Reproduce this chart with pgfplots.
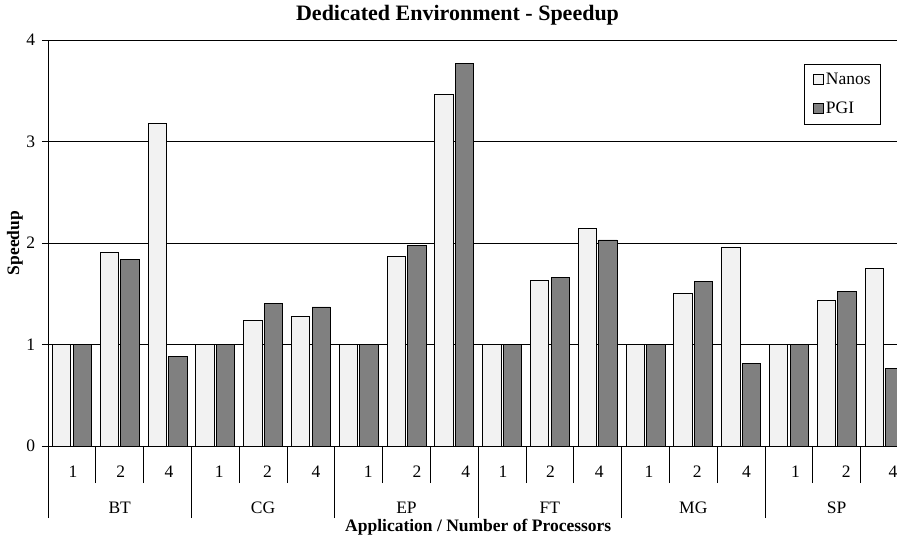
\documentclass[border=0pt]{standalone}
\usepackage{fontspec}
\setmainfont{Liberation Serif}
\usepackage{pgfplots}
\usepackage{pgfplotstable}
\pgfplotsset{compat=1.18}

\definecolor{nanosfill}{HTML}{F2F2F2}
\definecolor{pgifill}{HTML}{808080}

% x = position of the bar pair (BT 1,2,4 | CG 1,2,4 | ... | SP 1,2,4)
\pgfplotstableread{
x  nanos pgi
0  1.00  1.00
1  1.91  1.84
2  3.18  0.88
3  1.00  1.00
4  1.24  1.40
5  1.28  1.37
6  1.00  1.00
7  1.87  1.98
8  3.46  3.77
9  1.00  1.00
10 1.63  1.66
11 2.14  2.03
12 1.00  1.00
13 1.50  1.62
14 1.96  0.81
15 1.00  1.00
16 1.43  1.52
17 1.75  0.76
}\speedup

\newcommand{\chartfont}{\fontsize{17.5bp}{21bp}\selectfont}
% tick label pushed right by #1 bp (the labels do not sit quite centred)
\newcommand{\lb}[2]{\hspace*{#1bp}\hspace*{#1bp}#2}

\begin{document}
\begin{tikzpicture}[x=1bp,y=1bp]
% axis box: 48..908 px across, 40..446 px down in the 897x538 picture
\useasboundingbox (-48,-92) rectangle (849,446);
\clip (-48,-92) rectangle (849,446);
\begin{axis}[
    scale only axis,
    width=860.4bp, height=406bp,
    clip=false,
    ybar=2.3bp,
    bar width=18.3bp,
    xmin=-0.5, xmax=17.5,
    ymin=0, ymax=4,
    axis x line*=bottom,
    axis y line*=left,
    axis line style={-, black, line width=0.8bp},
    tick align=outside,
    ytick={0,1,2,3,4},
    ytick style={/pgfplots/major tick length=6bp, black, line width=0.8bp},
    yticklabel style={font=\chartfont, xshift=-5bp},
    /pgf/number format/assume math mode=true,
    ymajorgrids,
    grid style={black, line width=0.6bp},
    % separators between the bar pairs; labels moved to the middle of each pair
    xtick={-0.5,0.5,...,17.5},
    xticklabels={\lb{1}{1},\lb{1}{2},\lb{1.5}{4},
                 \lb{4}{1},\lb{4.5}{2},\lb{5}{4},
                 \lb{9.5}{1},\lb{10.5}{2},\lb{11.5}{4},
                 \lb{1}{1},\lb{0.5}{2},\lb{1.5}{4},
                 \lb{3.5}{1},\lb{4}{2},\lb{5.5}{4},
                 \lb{6.5}{1},\lb{9.5}{2},\lb{8.5}{4},{}},
    xticklabel style={font=\chartfont, anchor=base, xshift=23.9bp, yshift=-27bp},
    xtick style={/pgfplots/major tick length=37bp, black, line width=0.8bp},
    % separators between the applications
    minor xtick={-0.5,2.5,5.5,8.5,11.5,14.5,17.5},
    minor tick length=72bp,
    minor x tick style={black, line width=0.8bp},
    title={Dedicated Environment - Speedup},
    title style={at={(axis description cs:0.476,1.0345)}, anchor=base,
        font=\bfseries\fontsize{22bp}{26bp}\selectfont},
    xlabel={Application / Number of Processors},
    xlabel style={at={(axis description cs:0.5,0)}, anchor=base,
        yshift=-86bp, font=\bfseries\chartfont},
    ylabel={Speedup},
    ylabel style={at={(axis description cs:-0.0384,0.5)}, anchor=center,
        font=\bfseries\chartfont},
    legend style={at={(axis description cs:0.968,0.941)}, anchor=north east,
        draw=black, fill=white, font=\chartfont, row sep=12bp,
        inner xsep=8bp, inner ysep=7bp},
    legend cell align=left,
    legend image code/.code={\draw[#1] (0bp,-5bp) rectangle (10.5bp,5.5bp);},
]
\addplot[fill=nanosfill, draw=black, line width=0.8bp] table[x=x, y=nanos] {\speedup};
\addplot[fill=pgifill, draw=black, line width=0.8bp] table[x=x, y=pgi] {\speedup};
\legend{Nanos, PGI}
\node[font=\chartfont, anchor=base] at (axis cs:1,0)  [yshift=-68bp] {BT};
\node[font=\chartfont, anchor=base] at (axis cs:4,0)  [yshift=-68bp] {CG};
\node[font=\chartfont, anchor=base] at (axis cs:7,0)  [yshift=-68bp] {EP};
\node[font=\chartfont, anchor=base] at (axis cs:10,0) [yshift=-68bp] {FT};
\node[font=\chartfont, anchor=base] at (axis cs:13,0) [yshift=-68bp] {MG};
\node[font=\chartfont, anchor=base] at (axis cs:16,0) [yshift=-68bp] {SP};
\end{axis}
\end{tikzpicture}
\end{document}
